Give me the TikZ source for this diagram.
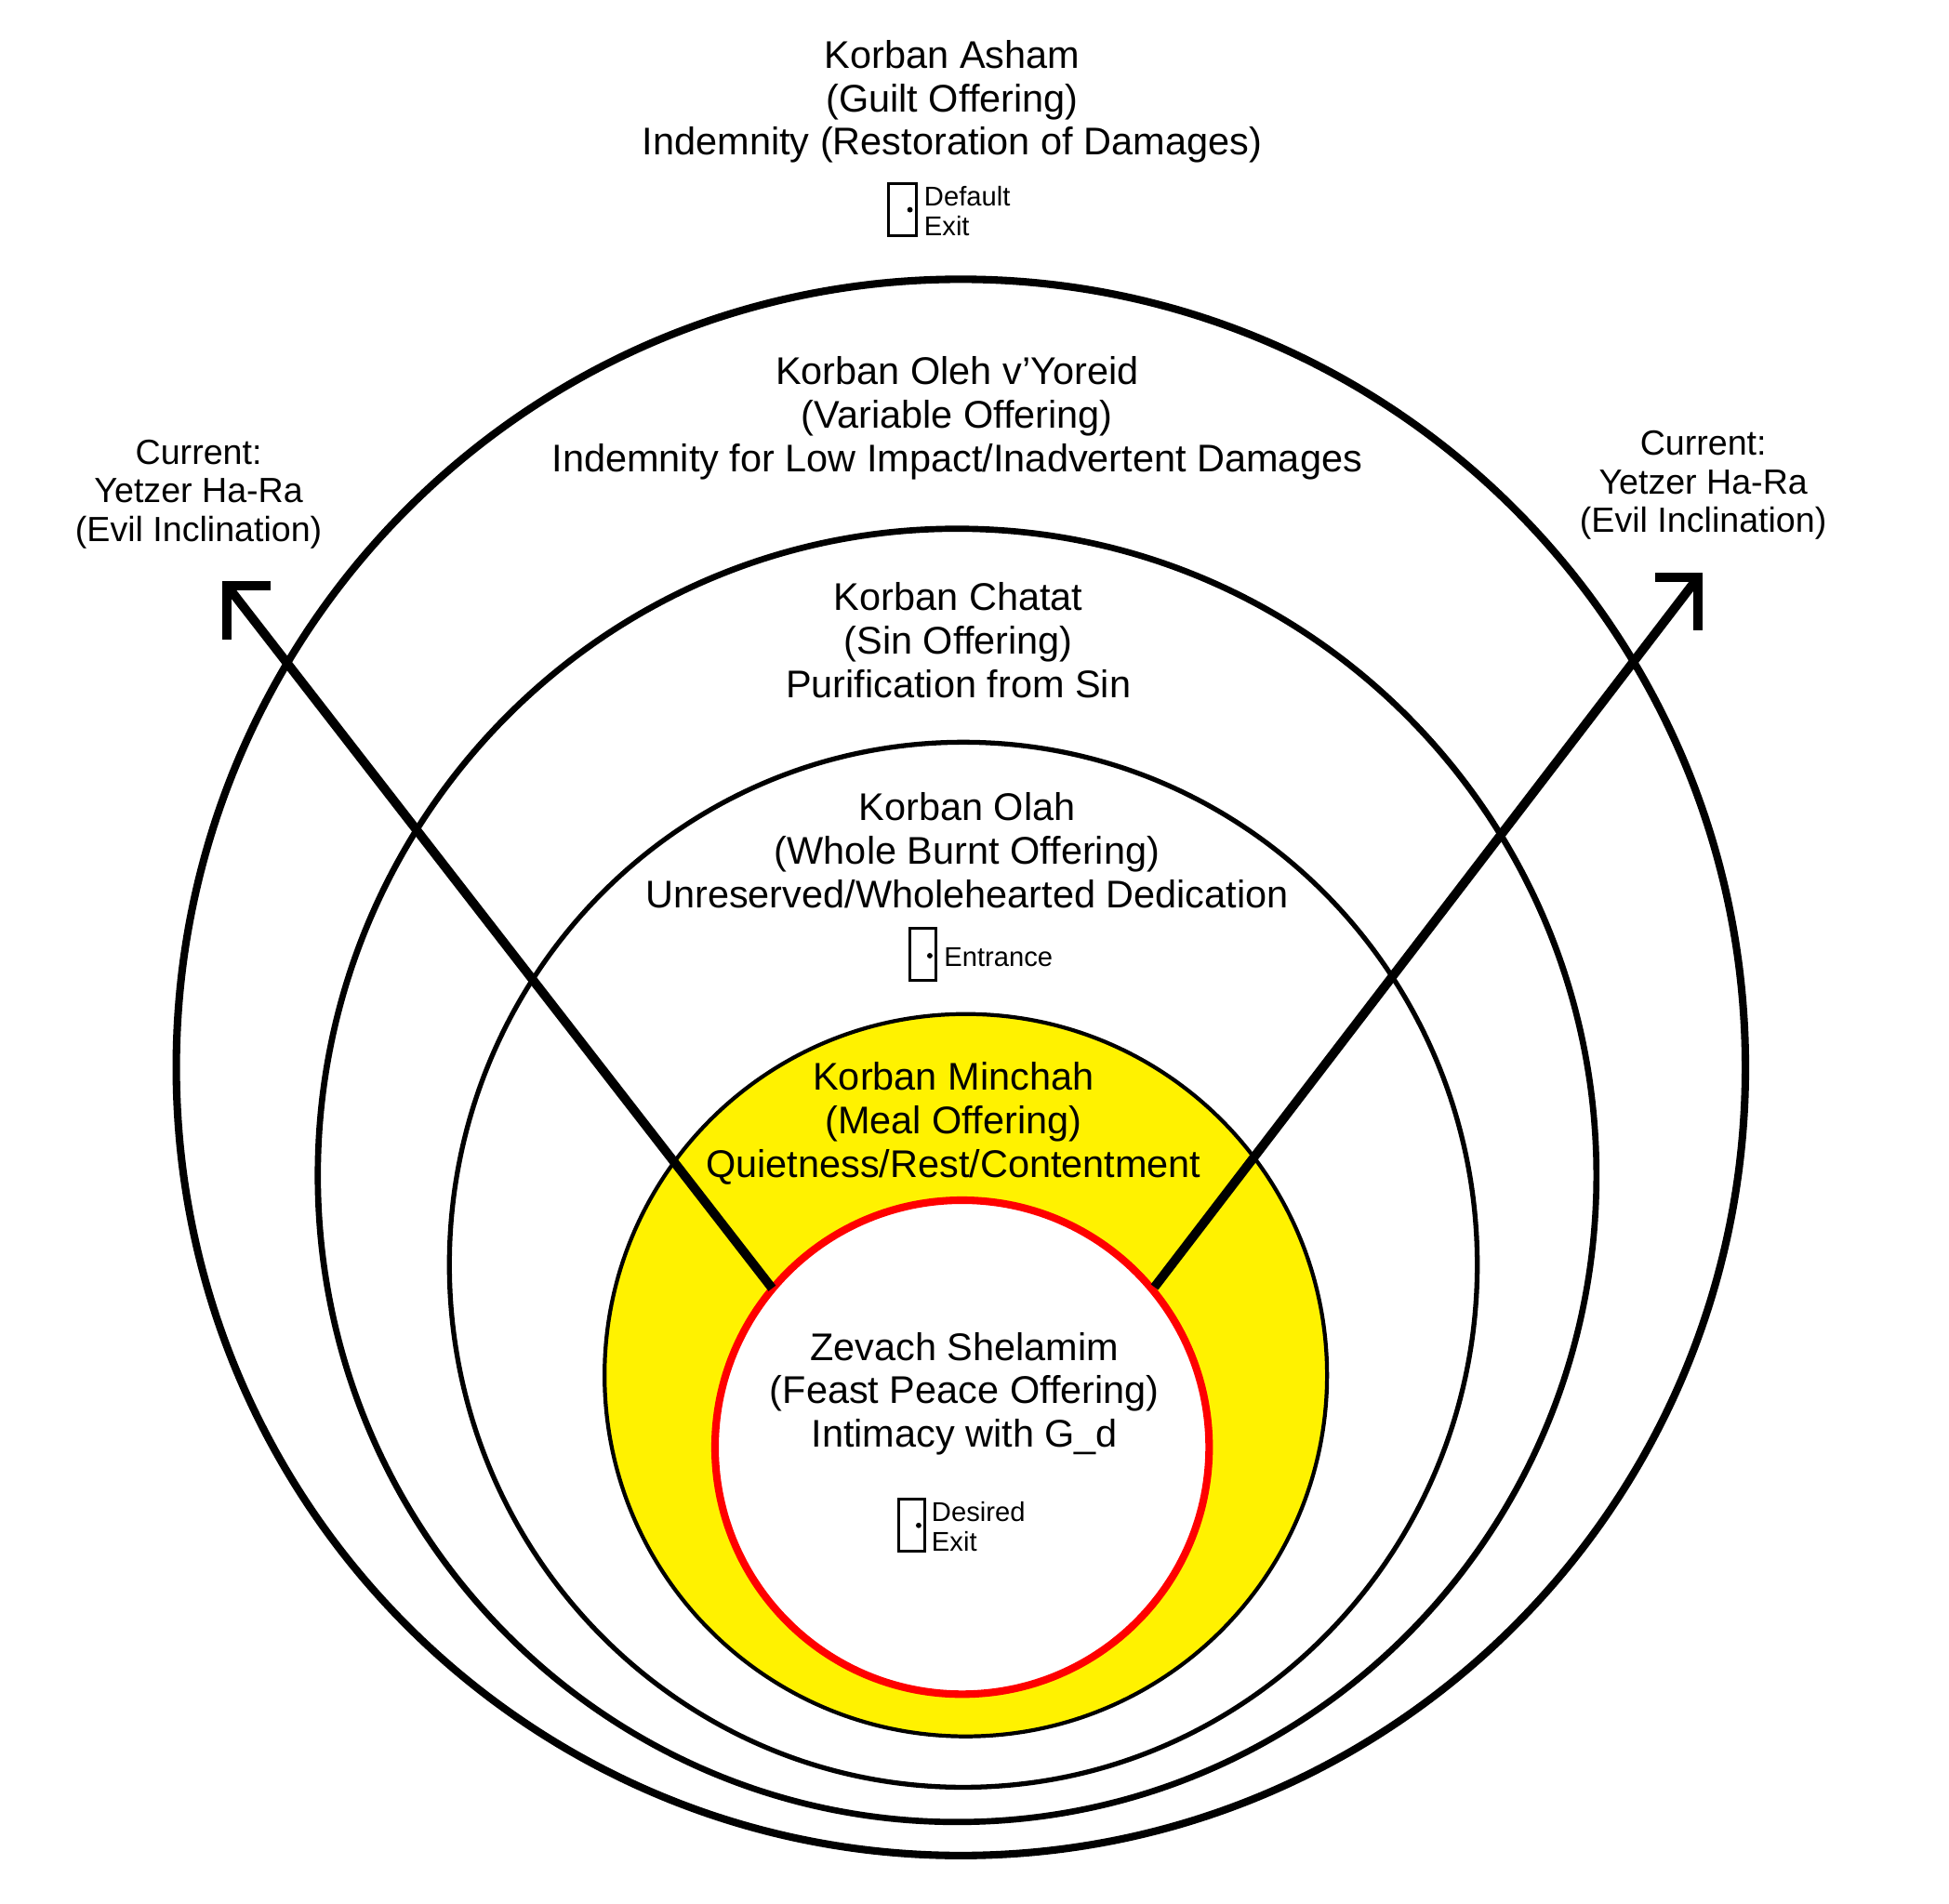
\documentclass[tikz,border=0pt]{standalone}
\usepackage{fontspec}
\setmainfont{Liberation Sans}
\begin{document}
\begin{tikzpicture}[x=0.01335cm,y=-0.01335cm,
  big/.style={align=center,font=\fontsize{11.8}{13.3}\selectfont,inner sep=0pt},
  cur/.style={align=center,font=\fontsize{10.7}{11.8}\selectfont,inner sep=0pt},
  small/.style={align=left,font=\fontsize{8.3}{9.1}\selectfont,inner sep=0pt,anchor=west},
  arr/.style={line width=2.8pt,line cap=butt},
  head/.style={line width=2.8pt,line join=miter}]
\useasboundingbox (0,0) rectangle (1570,1534);
\draw[line width=2.3pt] (774,860) ellipse [x radius=632,y radius=635];
\draw[line width=1.9pt] (771,947) ellipse [x radius=515,y radius=521];
\draw[line width=1.5pt] (776,1019) ellipse [x radius=414,y radius=421];
\draw[line width=1.2pt,fill=yellow] (778,1108) circle [radius=291];
\draw[line width=2.3pt,draw=red,fill=white] (775,1166) circle [radius=199];
% arrows
\coordinate (ls) at (622,1038); \coordinate (la) at (183,472);
\coordinate (rs) at (930,1037); \coordinate (ra) at (1368,465);
\draw[arr] (ls) -- (la);
\draw[arr] (rs) -- (ra);
\draw[head] ([shift={(0,43)}]la) -- (la) -- ([shift={(35,0)}]la);
\draw[head] ([shift={(-35,0)}]ra) -- (ra) -- ([shift={(0,43)}]ra);
% texts
\node[big] (asham) at (767,82) {Korban Asham\\(Guilt Offering)\\Indemnity (Restoration of Damages)};
\node[big] (oleh) at (771,337) {Korban Oleh v'Yoreid\\(Variable Offering)\\Indemnity for Low Impact/Inadvertent Damages};
\node[big] (chatat) at (772,516) {Korban Chatat\\(Sin Offering)\\Purification from Sin};
\node[big] (olah) at (779,685) {Korban Olah\\(Whole Burnt Offering)\\Unreserved/Wholehearted Dedication};
\node[big] (minchah) at (768,905) {Korban Minchah\\(Meal Offering)\\Quietness/Rest/Contentment};
\node[big] (zevach) at (777,1123) {Zevach Shelamim\\(Feast Peace Offering)\\Intimacy with G\_d};
\node[cur] (cl) at (160,398) {Current:\\Yetzer Ha-Ra\\(Evil Inclination)};
\node[cur] (cr) at (1372,391) {Current:\\Yetzer Ha-Ra\\(Evil Inclination)};
% doors
\draw[line width=0.9pt] (716,148) rectangle (738,190); \fill (733,169) circle [radius=2.2];
\node[small] (d1) at (744,170) {Default\\Exit};
\draw[line width=0.9pt] (733,748) rectangle (754,790); \fill (749,770) circle [radius=2.2];
\node[small] (d2) at (760,771) {Entrance};
\draw[line width=0.9pt] (724,1208) rectangle (745,1250); \fill (740,1229) circle [radius=2.2];
\node[small] (d3) at (750,1230) {Desired\\Exit};
\end{tikzpicture}
\end{document}
